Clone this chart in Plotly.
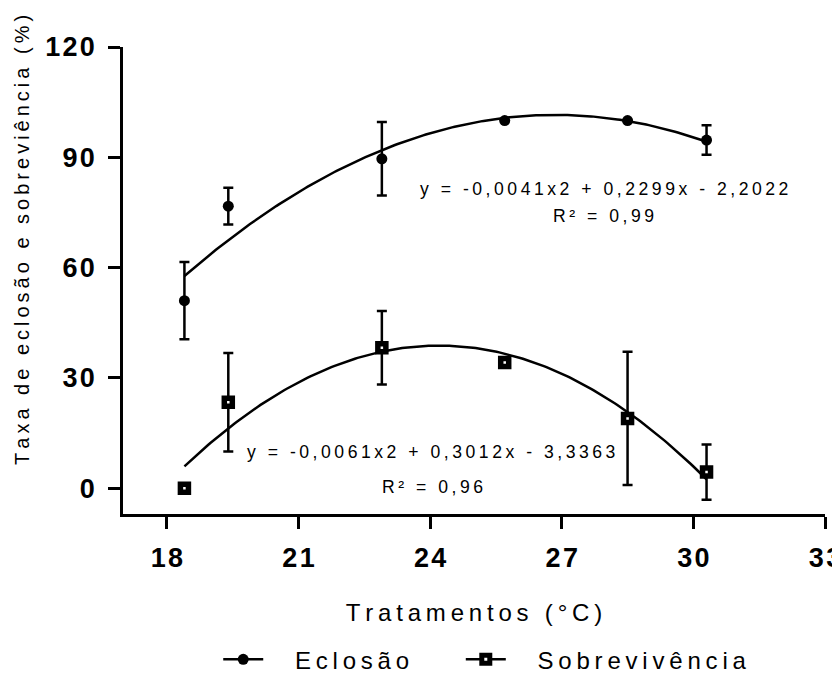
import numpy as np
import plotly.graph_objects as go

TS = "\u2009"   # thin space used to mimic the wide letter spacing
HS = "\u200a"   # hair space
NB = "\u00a0"

def spaced(s, sep=TS):
    return sep.join(list(s))

# ---- data ----
temps = [18.4, 19.4, 22.9, 25.7, 28.5, 30.3]
eclosao = [51.0, 76.7, 89.6, 100.0, 100.0, 94.7]
eclosao_err = [10.5, 5.0, 10.0, 0.0, 0.0, 4.0]
sobrev = [0.0, 23.4, 38.2, 34.2, 19.0, 4.4]
sobrev_err = [0.0, 13.4, 10.0, 0.0, 18.1, 7.5]

x_ticks = [18, 21, 24, 27, 30, 33]
y_ticks = [0, 30, 60, 90, 120]

eq1 = "y = -0,0041x2 + 0,2299x - 2,2022"
r1 = "R² = 0,99"
eq2 = "y = -0,0061x2 + 0,3012x - 3,3363"
r2 = "R² = 0,96"

x_title = "Tratamentos (°C)"
y_title = "Taxa de eclosão e sobreviência (%)"
names = ["Eclosão", "Sobrevivência"]

FONT = "Liberation Sans, Arial, sans-serif"

fig = go.Figure()

# quadratic trend lines fitted to the data
xs = np.linspace(min(temps), max(temps), 200)
for ys in (eclosao, sobrev):
    c = np.polyfit(temps, ys, 2)
    fig.add_trace(go.Scatter(x=xs, y=np.polyval(c, xs), mode="lines",
                             line=dict(color="black", width=2.5),
                             showlegend=False, hoverinfo="skip"))

sq_marker = dict(symbol="square", size=8, color="white",
                 line=dict(color="black", width=5.5))

fig.add_trace(go.Scatter(
    x=temps, y=eclosao, mode="markers",
    marker=dict(symbol="circle", size=11, color="black"),
    error_y=dict(type="data", array=eclosao_err, visible=True,
                 color="black", thickness=2.5, width=5),
    showlegend=False))

fig.add_trace(go.Scatter(
    x=temps, y=sobrev, mode="markers",
    marker=sq_marker,
    error_y=dict(type="data", array=sobrev_err, visible=True,
                 color="black", thickness=2.5, width=5),
    showlegend=False))

# legend entries
fig.add_trace(go.Scatter(x=[None], y=[None], mode="lines+markers",
                         name=NB * 4 + spaced(names[0]) + NB * 7,
                         line=dict(color="black", width=2.5),
                         marker=dict(symbol="circle", size=11, color="black")))
fig.add_trace(go.Scatter(x=[None], y=[None], mode="lines+markers",
                         name=NB * 4 + spaced(names[1]),
                         line=dict(color="black", width=2.5),
                         marker=sq_marker))

axis_common = dict(showline=True, linecolor="black", linewidth=2.5,
                   ticks="outside", ticklen=12, tickwidth=2.5, tickcolor="black",
                   showgrid=False, zeroline=False,
                   tickfont=dict(family=FONT, size=27, color="black", weight="bold"))

fig.update_xaxes(range=[17, 33], tickvals=x_ticks,
                 ticktext=[spaced(str(t), HS) for t in x_ticks],
                 ticklabelstandoff=6,
                 title=dict(text=spaced(x_title), font=dict(family=FONT, size=24, color="black"),
                            standoff=33),
                 **axis_common)
fig.update_yaxes(range=[-7, 120], tickvals=y_ticks,
                 ticktext=[spaced(str(t), HS) for t in y_ticks],
                 ticklabelstandoff=8,
                 **axis_common)

ann_font = dict(family=FONT, size=17.6, color="black")
fig.add_annotation(x=27.96, y=81.3, xref="x", yref="y", text=spaced(eq1),
                   showarrow=False, font=ann_font)
fig.add_annotation(x=27.96, y=74.0, xref="x", yref="y", text=spaced(r1),
                   showarrow=False, font=ann_font)
fig.add_annotation(x=24.02, y=9.9, xref="x", yref="y", text=spaced(eq2),
                   showarrow=False, font=ann_font)
fig.add_annotation(x=24.05, y=0.35, xref="x", yref="y", text=spaced(r2),
                   showarrow=False, font=ann_font)

# y axis title (positioned like the reference, above the axis centre)
fig.add_annotation(x=-0.143, y=0.586, xref="paper", yref="paper",
                   xanchor="center", yanchor="middle",
                   text=spaced(y_title), textangle=-90, showarrow=False,
                   font=dict(family=FONT, size=20, color="black"))

fig.update_layout(
    width=848, height=699,
    margin=dict(l=115, r=31, t=39, b=193.4),
    paper_bgcolor="white", plot_bgcolor="white",
    legend=dict(orientation="h", x=0.516, xanchor="center", y=-0.312, yanchor="middle",
                font=dict(family=FONT, size=24, color="black"),
                itemwidth=40),
)

fig.write_html("out.html")
